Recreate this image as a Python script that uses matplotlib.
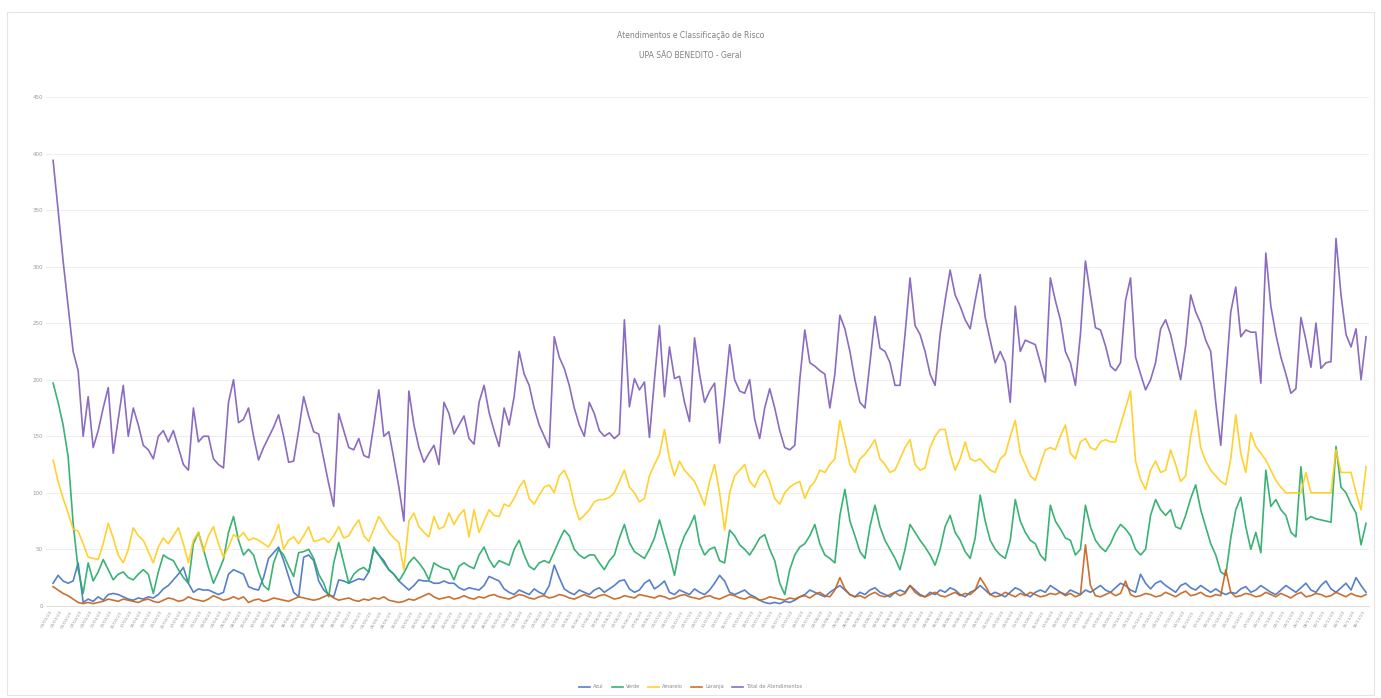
import numpy as np
import pandas as pd
import matplotlib
matplotlib.use('Agg')
import matplotlib.pyplot as plt

titulo = 'Atendimentos e Classificação de Risco\nUPA SÃO BENEDITO - Geral'
series_nomes = ['Azul', 'Verde', 'Amarelo', 'Laranja', 'Total de Atendimentos']
cores = ['#4472C4', '#25AA66', '#FFCC1A', '#C5621A', '#7E5CB8']

azul = [20, 27, 22, 20, 22, 38, 3, 6, 4, 8, 5, 10, 11, 10, 8, 6, 5, 7, 6, 8,
        7, 10, 15, 18, 23, 28, 34, 20, 12, 15, 14, 14, 12, 10, 12, 28, 32, 30, 28, 17,
        15, 14, 25, 42, 47, 52, 40, 26, 12, 8, 43, 45, 40, 22, 14, 10, 8, 23, 22, 20,
        22, 24, 23, 30, 50, 45, 40, 32, 28, 22, 18, 14, 18, 23, 22, 22, 20, 20, 22, 20,
        20, 16, 14, 16, 15, 14, 18, 26, 24, 22, 15, 12, 10, 14, 12, 10, 15, 12, 10, 18,
        36, 25, 15, 12, 10, 14, 12, 10, 14, 16, 12, 15, 18, 22, 23, 15, 12, 14, 20, 23,
        15, 18, 22, 12, 10, 14, 12, 10, 15, 12, 10, 14, 20, 27, 22, 12, 10, 12, 14, 10,
        8, 5, 3, 2, 3, 2, 4, 3, 5, 8, 10, 14, 12, 10, 8, 12, 15, 18, 14, 10,
        8, 12, 10, 14, 16, 12, 10, 8, 12, 14, 12, 18, 14, 10, 8, 12, 10, 14, 12, 16,
        14, 10, 8, 12, 14, 18, 14, 10, 12, 10, 8, 12, 16, 14, 10, 8, 12, 14, 12, 18,
        15, 12, 10, 14, 12, 10, 14, 12, 15, 18, 14, 12, 16, 20, 18, 14, 12, 28, 20, 15,
        20, 22, 18, 15, 12, 18, 20, 16, 14, 18, 15, 12, 15, 12, 10, 12, 11, 15, 17, 12,
        14, 18, 15, 12, 10, 14, 18, 15, 12, 16, 20, 14, 12, 18, 22, 15, 12, 16, 20, 14,
        25, 18, 12]

verde = [197, 180, 160, 132, 73, 32, 11, 38, 22, 30, 41, 32, 23, 28, 30, 25, 23, 28, 32, 28,
         11, 30, 45, 42, 40, 32, 25, 20, 55, 65, 50, 34, 20, 30, 41, 65, 79, 58, 45, 50,
         45, 30, 18, 14, 38, 50, 45, 35, 26, 47, 48, 50, 42, 28, 20, 8, 38, 56, 38, 20,
         28, 32, 34, 30, 52, 45, 38, 32, 28, 22, 29, 38, 43, 38, 32, 23, 38, 35, 33, 32,
         23, 35, 38, 35, 33, 45, 52, 41, 34, 40, 38, 36, 50, 58, 45, 35, 32, 38, 40, 38,
         48, 58, 67, 62, 50, 45, 42, 45, 45, 38, 32, 40, 45, 60, 72, 56, 48, 45, 42, 50,
         60, 76, 60, 45, 27, 50, 62, 70, 80, 55, 45, 50, 52, 40, 38, 67, 62, 54, 50, 45,
         52, 60, 63, 50, 40, 20, 10, 32, 45, 52, 55, 62, 72, 55, 45, 42, 38, 80, 103, 75,
         62, 48, 42, 70, 89, 70, 58, 50, 42, 32, 50, 72, 65, 58, 52, 45, 36, 50, 70, 80,
         65, 58, 48, 42, 60, 98, 75, 58, 50, 45, 42, 58, 94, 75, 65, 58, 55, 45, 40, 89,
         75, 68, 60, 58, 45, 50, 89, 70, 58, 52, 48, 55, 65, 72, 68, 62, 50, 45, 50, 80,
         94, 85, 80, 85, 70, 68, 80, 95, 107, 85, 70, 55, 45, 30, 27, 60, 85, 96, 70, 50,
         65, 47, 120, 88, 94, 85, 80, 65, 61, 123, 76, 79, 77, 76, 75, 74, 141, 105, 100, 90,
         82, 54, 73]

amarelo = [129, 110, 95, 82, 68, 66, 55, 43, 42, 41, 55, 73, 60, 45, 38, 50, 69, 62, 58, 48,
           38, 52, 60, 55, 62, 69, 55, 38, 58, 65, 48, 62, 70, 55, 43, 52, 63, 60, 65, 58,
           60, 58, 55, 52, 60, 72, 50, 58, 61, 55, 62, 70, 57, 58, 60, 56, 62, 70, 60, 62,
           70, 76, 62, 57, 68, 79, 72, 65, 60, 56, 32, 75, 82, 70, 65, 61, 79, 68, 70, 82,
           72, 80, 85, 61, 85, 65, 75, 85, 80, 79, 90, 88, 95, 105, 111, 95, 90, 98, 105, 107,
           100, 115, 120, 110, 90, 76, 80, 85, 92, 94, 94, 96, 100, 110, 120, 105, 100, 92, 95, 115,
           125, 134, 156, 130, 115, 128, 120, 115, 110, 100, 89, 110, 125, 100, 67, 100, 115, 120, 125, 110,
           105, 115, 120, 110, 95, 90, 100, 105, 108, 110, 95, 105, 110, 120, 118, 125, 130, 164, 145, 125,
           118, 130, 134, 140, 147, 130, 125, 118, 120, 130, 140, 147, 125, 120, 122, 140, 150, 156, 156, 135,
           120, 130, 145, 130, 128, 130, 125, 120, 118, 130, 134, 150, 164, 135, 125, 115, 111, 125, 138, 140,
           138, 150, 160, 135, 130, 145, 148, 140, 138, 145, 147, 145, 145, 160, 175, 190, 128, 112, 103, 120,
           128, 118, 120, 138, 125, 110, 115, 150, 173, 140, 128, 120, 115, 110, 107, 130, 169, 135, 118, 153,
           141, 135, 129, 120, 111, 105, 100, 100, 100, 100, 118, 100, 100, 100, 100, 100, 138, 118, 118, 118,
           100, 85, 123]

laranja = [17, 14, 11, 9, 6, 3, 2, 3, 2, 3, 4, 6, 5, 4, 6, 5, 4, 3, 5, 6,
           4, 3, 5, 7, 6, 4, 5, 8, 6, 5, 4, 6, 9, 7, 5, 6, 8, 6, 8, 3,
           5, 6, 4, 5, 7, 6, 5, 4, 6, 8, 7, 6, 5, 6, 8, 10, 7, 5, 6, 7,
           5, 4, 6, 5, 7, 6, 8, 5, 4, 3, 4, 6, 5, 7, 9, 11, 8, 6, 7, 8,
           6, 7, 9, 7, 6, 8, 7, 9, 10, 8, 7, 6, 8, 10, 9, 7, 6, 8, 9, 7,
           8, 10, 9, 7, 6, 8, 10, 8, 7, 9, 10, 8, 6, 7, 9, 8, 7, 10, 9, 8,
           7, 9, 8, 6, 7, 9, 10, 8, 7, 6, 8, 9, 7, 6, 8, 10, 9, 7, 6, 8,
           7, 5, 6, 8, 7, 6, 5, 7, 6, 8, 9, 7, 10, 12, 9, 8, 14, 25, 15, 10,
           8, 9, 7, 10, 12, 9, 8, 10, 12, 9, 11, 18, 12, 9, 8, 10, 12, 9, 8, 10,
           12, 9, 11, 10, 14, 25, 18, 10, 8, 9, 12, 10, 8, 11, 9, 12, 10, 8, 9, 11,
           10, 12, 9, 11, 8, 10, 54, 18, 9, 8, 10, 12, 9, 11, 22, 10, 8, 9, 11, 10,
           8, 9, 12, 10, 8, 11, 13, 9, 10, 12, 9, 8, 10, 9, 32, 12, 8, 9, 11, 10,
           8, 9, 12, 10, 8, 11, 9, 7, 10, 12, 8, 9, 11, 10, 8, 9, 12, 10, 8, 11,
           9, 8, 10]

total = [394, 350, 305, 265, 225, 208, 150, 185, 140, 155, 175, 193, 135, 165, 195, 150, 175, 160, 142, 138,
         130, 150, 155, 145, 155, 140, 125, 120, 175, 145, 150, 150, 130, 125, 122, 180, 200, 162, 165, 175,
         150, 129, 140, 149, 158, 169, 150, 127, 128, 155, 185, 168, 154, 152, 130, 108, 88, 170, 155, 140,
         138, 148, 133, 131, 160, 191, 150, 154, 130, 105, 75, 190, 160, 140, 127, 135, 142, 125, 180, 170,
         152, 160, 168, 148, 143, 180, 195, 171, 155, 141, 175, 160, 185, 225, 205, 195, 175, 160, 150, 140,
         238, 220, 210, 195, 175, 160, 150, 180, 170, 155, 150, 153, 148, 152, 253, 176, 201, 191, 198, 149,
         200, 248, 185, 229, 201, 203, 180, 163, 237, 205, 180, 190, 197, 144, 185, 231, 200, 190, 188, 200,
         165, 148, 175, 192, 175, 155, 140, 138, 142, 200, 244, 215, 212, 208, 205, 175, 205, 257, 245, 225,
         200, 180, 175, 215, 256, 228, 225, 215, 195, 195, 240, 290, 248, 240, 225, 205, 195, 240, 270, 297,
         275, 265, 253, 245, 270, 293, 255, 235, 215, 225, 215, 180, 265, 225, 235, 233, 231, 215, 198, 290,
         270, 253, 225, 215, 195, 240, 305, 275, 246, 244, 230, 212, 208, 215, 270, 290, 220, 205, 191, 200,
         215, 245, 253, 240, 220, 200, 230, 275, 260, 250, 235, 225, 180, 142, 200, 260, 282, 238, 244, 242,
         242, 197, 312, 265, 240, 220, 205, 188, 192, 255, 235, 211, 250, 210, 215, 216, 325, 275, 240, 229,
         245, 200, 238]

datas = pd.date_range('2023-03-01', periods=len(total), freq='D')
rotulos = [d.strftime('%d/%m/%y') for d in datas]

fig = plt.figure(figsize=(13.81, 6.98), dpi=100)
ax = fig.add_axes([0.033, 0.132, 0.958, 0.729])

x = np.arange(len(total))
for vals, nome, cor in zip([azul, verde, amarelo, laranja, total], series_nomes, cores):
    ax.plot(x, vals, color=cor, lw=1.2, label=nome, alpha=0.9)

ax.set_ylim(0, 450)
ax.set_yticks(np.arange(0, 451, 50))
ax.set_xlim(-1.5, len(total) - 0.5)
ax.grid(axis='y', color='#EEEEEE', lw=0.8)
ax.set_axisbelow(True)
for s in ['top', 'right', 'left']:
    ax.spines[s].set_visible(False)
ax.spines['bottom'].set_color('#E0E0E0')
ax.tick_params(axis='y', length=0, labelsize=4, labelcolor='#9A9A9A', pad=2)
ax.set_xticks(x[::2])
ax.set_xticklabels(rotulos[::2], rotation=60, ha='right', fontsize=3.2, color='#9A9A9A')
ax.tick_params(axis='x', length=0, pad=3)

fig.text(0.5, 0.935, titulo, ha='center', va='center', fontsize=5.5, color='#808080', linespacing=2.6)
fig.legend(loc='center', bbox_to_anchor=(0.5, 0.016), ncol=5, frameon=False, fontsize=3.6,
           handlelength=2.2, handletextpad=0.6, columnspacing=1.6, labelcolor='#8A8A8A')
fig.patches.append(plt.Rectangle((0.005, 0.005), 0.99, 0.978, transform=fig.transFigure,
                                 fill=False, edgecolor='#E4E4E4', lw=0.8))

fig.savefig('out.png', dpi=100, facecolor='white')
